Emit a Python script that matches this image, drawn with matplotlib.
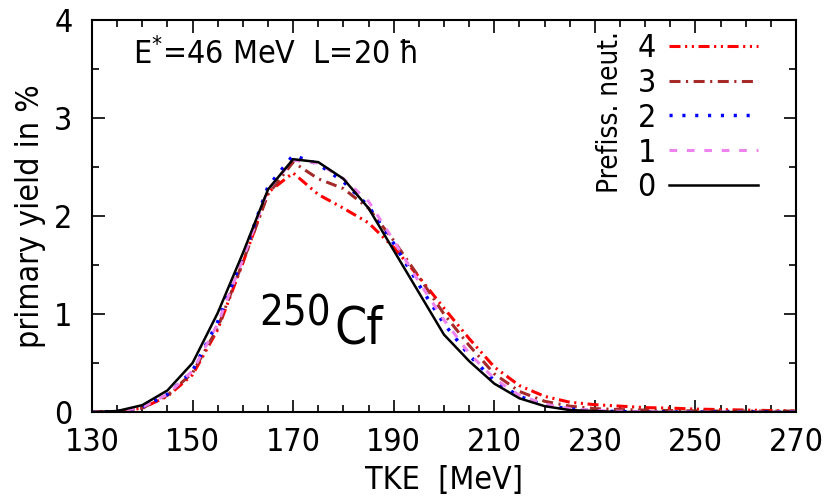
import matplotlib
matplotlib.use("Agg")
from matplotlib import pyplot as plt
from matplotlib.ticker import MultipleLocator

# TKE grid (MeV)
tke = list(range(130, 275, 5))

# primary yield in % for each number of prefission neutrons
n0 = [0, 0.01, 0.07, 0.22, 0.5, 1.01, 1.62, 2.27, 2.58, 2.55, 2.38, 2.08, 1.65, 1.22,
      0.79, 0.52, 0.29, 0.14, 0.06, 0.02, 0.01, 0, 0, 0, 0, 0, 0, 0, 0]
n1 = [0, 0.005, 0.05, 0.18, 0.42, 0.9, 1.56, 2.27, 2.57, 2.54, 2.38, 2.15, 1.75, 1.33,
      0.94, 0.6, 0.34, 0.17, 0.08, 0.035, 0.015, 0.008, 0.005, 0, 0, 0, 0, 0, 0]
n2 = [0, 0.005, 0.05, 0.18, 0.42, 0.92, 1.58, 2.3, 2.62, 2.53, 2.35, 2.1, 1.72, 1.3,
      0.9, 0.58, 0.32, 0.16, 0.07, 0.03, 0.01, 0.005, 0, 0, 0, 0, 0, 0, 0]
n3 = [0, 0.005, 0.04, 0.17, 0.4, 0.86, 1.53, 2.22, 2.55, 2.38, 2.28, 2.08, 1.75, 1.38,
      1.0, 0.68, 0.39, 0.21, 0.11, 0.06, 0.035, 0.025, 0.02, 0.015, 0.012, 0.01, 0.01,
      0.01, 0.01]
n4 = [0, 0.005, 0.04, 0.16, 0.38, 0.84, 1.52, 2.24, 2.44, 2.22, 2.08, 1.93, 1.68, 1.38,
      1.06, 0.75, 0.46, 0.27, 0.16, 0.10, 0.075, 0.06, 0.045, 0.04, 0.03, 0.025, 0.02,
      0.015, 0.01]

labels = ["4", "3", "2", "1", "0"]
xticks = list(range(130, 271, 20))

plt.rcParams['font.family'] = ['DejaVu Sans']
plt.rcParams['font.stretch'] = 'condensed'
fig = plt.figure(figsize=(8.3, 5.01), dpi=100)
ax = fig.add_axes([0.1108, 0.1776, 0.8482, 0.7824])

h4, = ax.plot(tke, n4, color='red', lw=2.2, dashes=(3.6, 1.5, 0.7, 1.5, 0.7, 1.5))
h3, = ax.plot(tke, n3, color='brown', lw=2.2, dashes=(3.6, 1.8, 0.7, 1.8))
h2, = ax.plot(tke, n2, color='blue', lw=2.5, dashes=(0.9, 2.8))
h1, = ax.plot(tke, n1, color='violet', lw=2.2, dashes=(2.5, 3.2))
h0, = ax.plot(tke, n0, color='black', lw=1.8)

ax.set_xlim(130, 270)
ax.set_ylim(0, 4)
ax.set_xticks(xticks)
ax.xaxis.set_minor_locator(MultipleLocator(5))
ax.yaxis.set_major_locator(MultipleLocator(1))
ax.yaxis.set_minor_locator(MultipleLocator(0.5))
ax.tick_params(which='both', direction='in', top=True, right=True, width=1.2, labelsize=23)
ax.tick_params(which='major', length=9, pad=11)
ax.tick_params(axis='y', which='major', pad=14)
ax.tick_params(which='minor', length=5)
for s in ax.spines.values():
    s.set_linewidth(1.5)

ax.set_xlabel("TKE  [MeV]", fontsize=23, labelpad=5)
ax.set_ylabel("primary yield in %", fontsize=23, labelpad=6)

ax.text(0.058, 0.911, r"E$^{*}$=46 MeV  L=20 ħ", transform=ax.transAxes, fontsize=23,
        va='center', ha='left')
ax.text(0.237, 0.222, "250", transform=ax.transAxes, fontsize=30, ha='left', va='baseline')
ax.text(0.345, 0.176, "Cf", transform=ax.transAxes, fontsize=37, ha='left', va='baseline')

leg = ax.legend([h4, h3, h2, h1, h0], labels, loc='upper right',
                bbox_to_anchor=(758 / 830, 1 - 33 / 501), bbox_transform=fig.transFigure,
                frameon=False, markerfirst=False, handlelength=2.8, handletextpad=0.4,
                labelspacing=0.12, borderpad=0, borderaxespad=0, fontsize=23)
fig.text(610 / 830, 1 - 112 / 501, "Prefiss. neut.", rotation=90, fontsize=20,
         ha='center', va='center')

fig.savefig("out.png", dpi=100)
